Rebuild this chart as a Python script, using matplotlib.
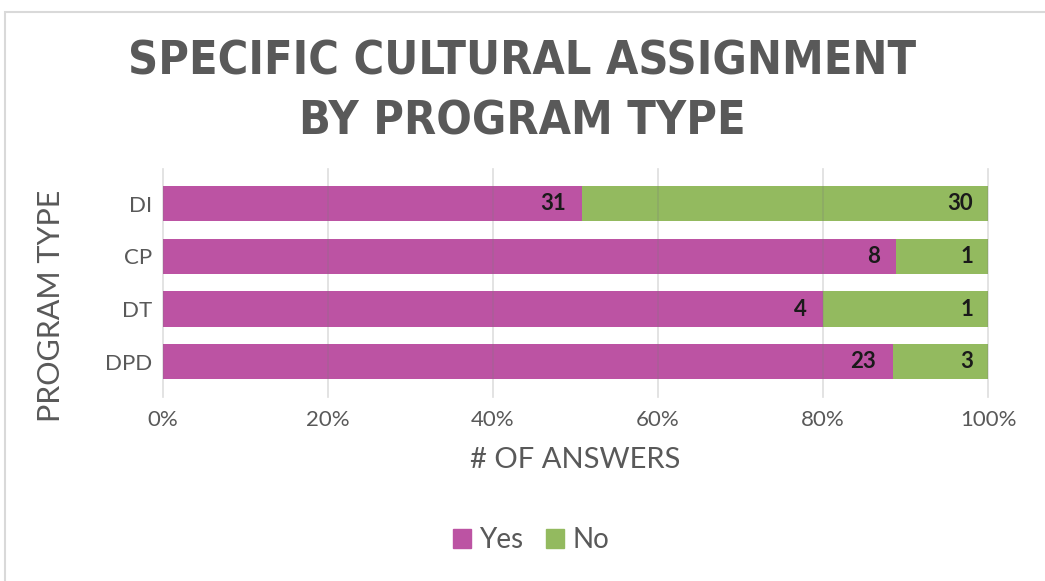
import matplotlib.pyplot as plt
import matplotlib.patches as mpatches
import numpy as np

programs = ["DI", "CP", "DT", "DPD"]
yes_counts = [31, 8, 4, 23]
no_counts = [30, 1, 1, 3]
x_ticks = [0, 20, 40, 60, 80, 100]

YES_COLOR = "#BC53A3"
NO_COLOR = "#93BA5F"
TEXT_COLOR = "#595959"

plt.rcParams["font.family"] = ["Lato", "DejaVu Sans"]

fig = plt.figure(figsize=(10.45, 5.81), dpi=100)
ax = fig.add_axes([0.156, 0.332, 0.7895, 0.363])

yes = np.array(yes_counts, dtype=float)
no = np.array(no_counts, dtype=float)
total = yes + no
yes_pct = yes / total * 100
no_pct = no / total * 100
ypos = np.arange(len(programs))

ax.barh(ypos, yes_pct, height=0.67, color=YES_COLOR, label="Yes", zorder=1)
ax.barh(ypos, no_pct, left=yes_pct, height=0.67, color=NO_COLOR, label="No", zorder=1)

# value labels sit just inside the right end of each segment
for y, yp, np_, yc, nc in zip(ypos, yes_pct, no_pct, yes_counts, no_counts):
    ax.text(yp - 2.0, y, str(yc), ha="right", va="center", fontsize=16,
            fontweight="bold", color="#1a1a1a", zorder=3)
    ax.text(yp + np_ - 1.8, y, str(nc), ha="right", va="center", fontsize=16,
            fontweight="bold", color="#1a1a1a", zorder=3)

ax.set_xlim(0, 100)
ax.set_ylim(len(programs) - 0.5, -0.5)
ax.set_xticks(x_ticks)
ax.set_xticklabels([f"{t}%" for t in x_ticks])
ax.set_yticks(ypos)
ax.set_yticklabels(programs)
ax.tick_params(axis="both", length=0, colors=TEXT_COLOR, labelsize=16)
ax.tick_params(axis="x", pad=16)
ax.tick_params(axis="y", pad=8)

for x in x_ticks:
    ax.axvline(x, ymin=-0.04, ymax=1.04, color="#7a7a7a", alpha=0.25,
               lw=1.2, zorder=2, clip_on=False)
for side in ax.spines.values():
    side.set_visible(False)

ax.set_xlabel("# OF ANSWERS", fontsize=21, color=TEXT_COLOR, labelpad=12)
ax.set_ylabel("PROGRAM TYPE", fontsize=22, color=TEXT_COLOR)
ax.yaxis.set_label_coords(-0.119, 0.39)

fig.text(0.5, 0.842, "SPECIFIC CULTURAL ASSIGNMENT\nBY PROGRAM TYPE",
         ha="center", va="center", fontsize=33.5, fontweight="bold",
         fontstretch="condensed", color=TEXT_COLOR, linespacing=1.42,
         family=["DejaVu Sans"])

handles = [mpatches.Patch(color=YES_COLOR, label="Yes"),
           mpatches.Patch(color=NO_COLOR, label="No")]
leg = fig.legend(handles=handles, loc="center", bbox_to_anchor=(0.508, 0.07),
                 ncol=2, frameon=False, fontsize=20, handlelength=0.65,
                 handleheight=0.65, handletextpad=0.3, columnspacing=0.8)
for t in leg.get_texts():
    t.set_color(TEXT_COLOR)

# light frame around the chart area
fig.patches.append(mpatches.Rectangle((5 / 1045, -0.1), 1.2, 1 - 12 / 581 + 0.1,
                                      transform=fig.transFigure, fill=False,
                                      edgecolor="#d9d9d9", lw=1.5))

fig.savefig("out.png", dpi=100)
